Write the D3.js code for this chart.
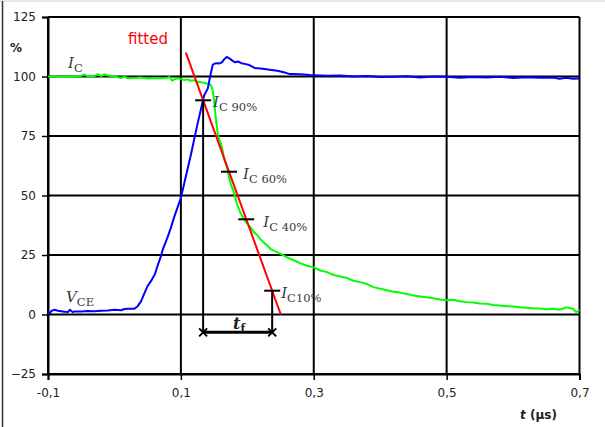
<!DOCTYPE html>
<html>
<head>
<meta charset="utf-8">
<script src="https://cdn.jsdelivr.net/npm/d3@7"></script>
<style>
  html, body { margin: 0; padding: 0; background: #fff; }
  svg { display: block; }
</style>
</head>
<body>
<div id="chart"></div>
<script>
// Axis ticks
const xTicks = [-0.1, 0.1, 0.3, 0.5, 0.7];
const xTickLabels = ["-0,1", "0,1", "0,3", "0,5", "0,7"];
const yTicks = [-25, 0, 25, 50, 75, 100, 125];

// Collector current I_C (%) versus time (µs)
const icTime = [-0.1, -0.09, -0.08, -0.07, -0.06, -0.05, -0.045, -0.04, -0.03, -0.025, -0.02, -0.015, -0.01, 0.0,
  0.01, 0.015, 0.02, 0.03, 0.04, 0.05, 0.06, 0.07, 0.08, 0.083, 0.087, 0.09, 0.095, 0.1, 0.105, 0.11, 0.115,
  0.12, 0.125, 0.13, 0.135, 0.14, 0.145, 0.148, 0.15, 0.152, 0.155, 0.157, 0.16, 0.162, 0.165, 0.168, 0.17,
  0.173, 0.176, 0.179, 0.182, 0.185, 0.19, 0.195, 0.2, 0.205, 0.21, 0.215, 0.22, 0.225, 0.23, 0.235, 0.24,
  0.25, 0.26, 0.27, 0.28, 0.29, 0.3, 0.31, 0.32, 0.33, 0.34, 0.35, 0.36, 0.37, 0.38, 0.39, 0.4, 0.41, 0.42,
  0.43, 0.44, 0.45, 0.46, 0.47, 0.48, 0.49, 0.5, 0.51, 0.52, 0.53, 0.54, 0.55, 0.56, 0.57, 0.58, 0.59, 0.6,
  0.61, 0.62, 0.63, 0.64, 0.65, 0.66, 0.67, 0.68, 0.69, 0.695, 0.7];
const icValue = [100, 100, 99.8, 100, 99.9, 100.3, 100.8, 100, 100.2, 101, 100.2, 100.9, 100.4, 100,
  99.4, 99.9, 99.3, 99.4, 99.6, 99.2, 99.4, 99.3, 99.5, 99.8, 98.2, 98.8, 99.2, 99, 98.5, 98.8, 98.2,
  98.4, 97.8, 97.6, 97.4, 97, 96.5, 94, 90, 84, 77, 74, 72, 70, 65.5, 63, 61,
  57, 54, 52, 49, 46, 42.5, 40, 38.2, 36.5, 34.5, 33.4, 31.5, 30.2, 29, 27.5, 26.8,
  25.5, 24, 22.8, 21.5, 20.5, 19.8, 18.5, 17.8, 16.6, 16, 15.3, 14.2, 13.6, 12.8, 11.5, 10.8, 10.2, 9.6,
  9.2, 8.6, 8, 7.6, 7.2, 6.8, 6.3, 6, 6.2, 5.6, 5.2, 5, 4.6, 4.5, 4, 3.8, 3.5, 3.4,
  3, 2.8, 2.6, 2.5, 2.2, 2.4, 2, 3, 2.4, 1, 2];

// Collector-emitter voltage V_CE (%) versus time (µs)
const vceTime = [-0.1, -0.097, -0.095, -0.09, -0.085, -0.08, -0.075, -0.07, -0.067, -0.063, -0.06, -0.05,
  -0.04, -0.03, -0.02, -0.01, 0, 0.01, 0.015, 0.02, 0.03, 0.035, 0.04, 0.046, 0.05, 0.055, 0.061, 0.065,
  0.07, 0.073, 0.08, 0.085, 0.09, 0.095, 0.1, 0.105, 0.11, 0.115, 0.12, 0.125, 0.13, 0.135, 0.1406, 0.144,
  0.148, 0.153, 0.158, 0.162, 0.166, 0.169, 0.173, 0.177, 0.181, 0.186, 0.191, 0.196, 0.203, 0.211, 0.22,
  0.234, 0.245, 0.255, 0.264, 0.28, 0.294, 0.32, 0.34, 0.36, 0.38, 0.4, 0.42, 0.44, 0.46, 0.48, 0.5, 0.52,
  0.54, 0.56, 0.58, 0.6, 0.62, 0.64, 0.66, 0.67, 0.68, 0.69, 0.7];
const vceValue = [1, 0.5, 1.5, 2, 1.6, 1.4, 1.2, 1, 2, 1, 1.3, 1.3,
  1.5, 1.4, 1.6, 1.7, 2, 1.8, 2.3, 2.4, 2.4, 3.5, 5.5, 9.5, 12, 14, 17, 20.5,
  24.5, 27.5, 32.5, 36.5, 41, 45, 49, 55, 61, 67, 73.5, 80, 86, 92, 95, 100,
  105, 105.6, 105.5, 106, 107.5, 108.2, 107.6, 106.8, 106, 106.3, 105.6, 105.3, 104.8, 103.6, 103.4,
  102.8, 102.4, 101.8, 101, 100.9, 100.6, 100.3, 100.4, 100, 100.2, 99.8, 99.9, 100.1, 99.6, 100, 99.9, 99.5,
  99.8, 99.6, 99.9, 99.4, 99.7, 99.5, 99.6, 99, 99.5, 99.1, 99.2];

// Straight-line fit of the falling current edge
const fitTime = [0.1075, 0.2504];
const fitValue = [110, 0];

// Current levels marked on the fit
const markLevels = [90, 60, 40, 10];
const markLabels = ["C 90%", "C 60%", "C 40%", "C10%"];

const W = 605, H = 427;
const svg = d3.select("#chart").append("svg").attr("width", W).attr("height", H);

const x = d3.scaleLinear().domain([-0.1, 0.7]).range([48, 579.5]);
const y = d3.scaleLinear().domain([-25, 125]).range([374, 17]);

// Outer frame
svg.append("line").attr("x1", 0).attr("x2", W).attr("y1", 1).attr("y2", 1)
  .attr("stroke", "#d0d0d0").attr("stroke-width", 1);
svg.append("line").attr("x1", 2.5).attr("x2", 2.5).attr("y1", 1).attr("y2", H)
  .attr("stroke", "#333").attr("stroke-width", 1.5);

// Grid
const grid = svg.append("g");
grid.selectAll("line.h").data(yTicks).enter().append("line")
  .attr("x1", x(-0.1)).attr("x2", x(0.7))
  .attr("y1", d => y(d)).attr("y2", d => y(d))
  .attr("stroke", "#000").attr("stroke-width", 2);
grid.selectAll("line.v").data(xTicks).enter().append("line")
  .attr("y1", y(-25)).attr("y2", y(125))
  .attr("x1", d => x(d)).attr("x2", d => x(d))
  .attr("stroke", "#000").attr("stroke-width", 2);

// Axes
const yAxis = d3.axisLeft(y).tickValues(yTicks).tickSize(6).tickPadding(6).tickFormat(d3.format("d"));
const gy = svg.append("g").attr("transform", `translate(${x(-0.1)},0)`).call(yAxis);
const xAxis = d3.axisBottom(x).tickValues(xTicks).tickSize(6).tickPadding(8)
  .tickFormat((d, i) => xTickLabels[i]);
const gx = svg.append("g").attr("transform", `translate(0,${y(-25)})`).call(xAxis);
[gx, gy].forEach(g => {
  g.select(".domain").attr("stroke", "#000").attr("stroke-width", 2);
  g.selectAll(".tick line").attr("stroke", "#000").attr("stroke-width", 1.5);
  g.selectAll(".tick text").attr("fill", "#222")
    .style("font-family", "'DejaVu Sans', Verdana, sans-serif").style("font-size", "12px");
});

// Curves
const line = d3.line().x(d => x(d[0])).y(d => y(d[1]));
const icData = icTime.map((t, i) => [t, icValue[i]]);
const vceData = vceTime.map((t, i) => [t, vceValue[i]]);
svg.append("path").datum(icData).attr("d", line)
  .attr("fill", "none").attr("stroke", "#00ff00").attr("stroke-width", 2).attr("stroke-linejoin", "round");
svg.append("path").datum(vceData).attr("d", line)
  .attr("fill", "none").attr("stroke", "#0000ff").attr("stroke-width", 2).attr("stroke-linejoin", "round");
svg.append("path").datum(fitTime.map((t, i) => [t, fitValue[i]])).attr("d", line)
  .attr("fill", "none").attr("stroke", "#ff0000").attr("stroke-width", 2);

// Time on the fitted line for a given level
const fitSlope = (fitValue[1] - fitValue[0]) / (fitTime[1] - fitTime[0]);
const tAt = v => fitTime[0] + (v - fitValue[0]) / fitSlope;

// Fall-time construction
const t90 = tAt(90), t10 = tAt(10);
const arrowLevel = -7.5;
svg.append("line").attr("x1", x(t90)).attr("x2", x(t90)).attr("y1", y(90)).attr("y2", y(arrowLevel))
  .attr("stroke", "#000").attr("stroke-width", 2);
svg.append("line").attr("x1", x(t10)).attr("x2", x(t10)).attr("y1", y(10)).attr("y2", y(arrowLevel))
  .attr("stroke", "#000").attr("stroke-width", 2);
svg.append("line").attr("x1", x(t90)).attr("x2", x(t10)).attr("y1", y(arrowLevel)).attr("y2", y(arrowLevel))
  .attr("stroke", "#000").attr("stroke-width", 3);
[t90, t10].forEach(t => {
  const cx = x(t), cy = y(arrowLevel), s = 4;
  svg.append("path").attr("d", `M${cx - s},${cy - s}L${cx + s},${cy + s}M${cx - s},${cy + s}L${cx + s},${cy - s}`)
    .attr("stroke", "#000").attr("stroke-width", 2);
});

// Level marks on the fit
svg.selectAll("line.mark").data(markLevels).enter().append("line")
  .attr("x1", d => x(tAt(d)) - 8).attr("x2", d => x(tAt(d)) + 8)
  .attr("y1", d => y(d)).attr("y2", d => y(d))
  .attr("stroke", "#000").attr("stroke-width", 2);

// Serif labels with subscripts
const serif = "'DejaVu Serif', 'Liberation Serif', serif";
function symLabel(px, py, main, sub, opts = {}) {
  const t = svg.append("text").attr("x", px).attr("y", py)
    .attr("fill", opts.fill || "#3a3a3a")
    .style("font-family", opts.family || serif);
  t.append("tspan").text(main)
    .style("font-style", "italic").style("font-size", (opts.size || 15) + "px")
    .style("font-weight", opts.weight || "normal");
  t.append("tspan").text(sub).attr("dy", opts.dy || 4)
    .style("font-size", (opts.subSize || 11.5) + "px")
    .style("font-weight", opts.weight || "normal");
  return t;
}
const labelOffsets = [[10, 107], [14, 179], [17, 227], [9, 298]];
markLevels.forEach((v, i) => {
  symLabel(x(tAt(v)) + labelOffsets[i][0], labelOffsets[i][1], "I", markLabels[i]);
});
symLabel(68, 68, "I", "C");
symLabel(66, 302, "V", "CE");
symLabel(233, 329, "t", "f", { fill: "#222", weight: "bold", size: 16, subSize: 11, dy: 3 });

// Annotation texts
svg.append("text").attr("x", 128).attr("y", 44).text("fitted")
  .attr("fill", "#ff0000").style("font-family", "'DejaVu Sans', Verdana, sans-serif").style("font-size", "15px");
svg.append("text").attr("x", 10).attr("y", 52).text("%")
  .attr("fill", "#222").style("font-family", "'DejaVu Sans', Verdana, sans-serif")
  .style("font-size", "12px").style("font-weight", "bold");
const xt = svg.append("text").attr("x", 520).attr("y", 419).attr("fill", "#222")
  .style("font-family", "'DejaVu Sans', Verdana, sans-serif").style("font-size", "12px").style("font-weight", "bold");
xt.append("tspan").text("t").style("font-style", "italic");
xt.append("tspan").text(" (µs)");
</script>
</body>
</html>
